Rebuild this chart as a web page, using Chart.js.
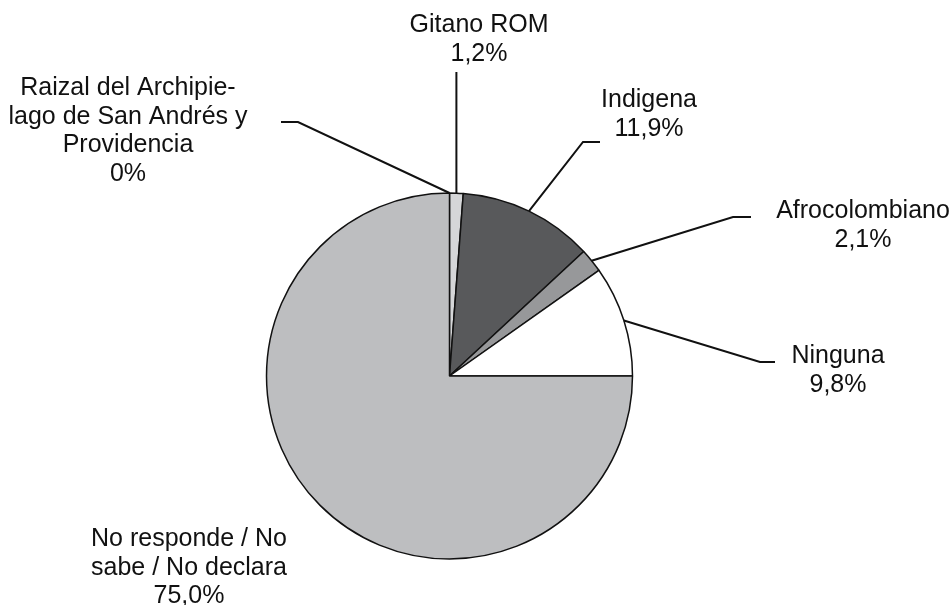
<!DOCTYPE html>
<html>
<head>
<meta charset="utf-8">
<script src="https://cdn.jsdelivr.net/npm/chart.js@4/dist/chart.umd.min.js"></script>
<style>
  html, body { margin: 0; padding: 0; background: #fff; }
  canvas { display: block; }
</style>
</head>
<body>
<canvas id="chart-1" width="952" height="605"></canvas>
<script>
// Categories (already split into the lines they are printed on) and their shares, in %
const categories = [
  ["Raizal del Archipie-", "lago de San Andrés y", "Providencia"],
  ["Gitano ROM"],
  ["Indigena"],
  ["Afrocolombiano"],
  ["Ninguna"],
  ["No responde / No", "sabe / No declara"],
];
const shares = [0, 1.2, 11.9, 2.1, 9.8, 75.0];
const sliceColors = ["#bdbec0", "#d5d6d8", "#58595b", "#97989a", "#ffffff", "#bdbec0"];

// where each label sits (centre x, first baseline) and the bends of its leader line
// (a null x keeps the x of the point before it, for a straight vertical run)
const labelSpots = [
  { x: 128, y: 95, line: [[298, 122], [281, 122]] },
  { x: 479, y: 32, line: [[null, 72]] },
  { x: 649, y: 107, line: [[583, 142], [600, 142]] },
  { x: 863, y: 218, line: [[733, 217], [751, 217]] },
  { x: 838, y: 363, line: [[760, 362], [775, 362]] },
  { x: 189, y: 546, line: null },
];

function pct(v) {
  return v === 0 ? "0%" : v.toFixed(1).replace(".", ",") + "%";
}

const calloutPlugin = {
  id: "callouts",
  afterDatasetsDraw(chart, args, opts) {
    const ctx = chart.ctx;
    const meta = chart.getDatasetMeta(0);
    ctx.save();
    meta.data.forEach((arc, i) => {
      const spot = opts.spots[i];
      const { x, y, startAngle, endAngle, outerRadius } = arc.getProps(
        ["x", "y", "startAngle", "endAngle", "outerRadius"],
        true
      );
      const mid = (startAngle + endAngle) / 2;

      if (spot.line) {
        let px = x + Math.cos(mid) * outerRadius;
        const py = y + Math.sin(mid) * outerRadius;
        ctx.beginPath();
        ctx.moveTo(px, py);
        spot.line.forEach((p) => {
          px = p[0] === null ? px : p[0];
          ctx.lineTo(px, p[1]);
        });
        ctx.lineWidth = 2;
        ctx.strokeStyle = "#111";
        ctx.lineJoin = "miter";
        ctx.stroke();
      }

      const lines = [...chart.data.labels[i], pct(chart.data.datasets[0].data[i])];
      ctx.font = opts.font;
      ctx.fillStyle = "#111";
      ctx.textAlign = "center";
      ctx.textBaseline = "alphabetic";
      lines.forEach((t, k) => ctx.fillText(t, spot.x, spot.y + k * opts.lineHeight));
    });
    ctx.restore();
  },
};

const chart = new Chart(document.getElementById("chart-1").getContext("2d"), {
  type: "pie",
  data: {
    labels: categories,
    datasets: [
      {
        data: shares,
        backgroundColor: sliceColors,
        borderColor: "#111",
        borderWidth: 1.5,
      },
    ],
  },
  options: {
    responsive: false,
    animation: false,
    radius: 183,
    layout: { padding: { left: 0, right: 53, top: 147, bottom: 0 } },
    plugins: {
      legend: { display: false },
      tooltip: { enabled: false },
      callouts: {
        spots: labelSpots,
        font: '25px "Liberation Sans", Arial, sans-serif',
        lineHeight: 28.5,
      },
    },
  },
  plugins: [calloutPlugin],
});
</script>
</body>
</html>
